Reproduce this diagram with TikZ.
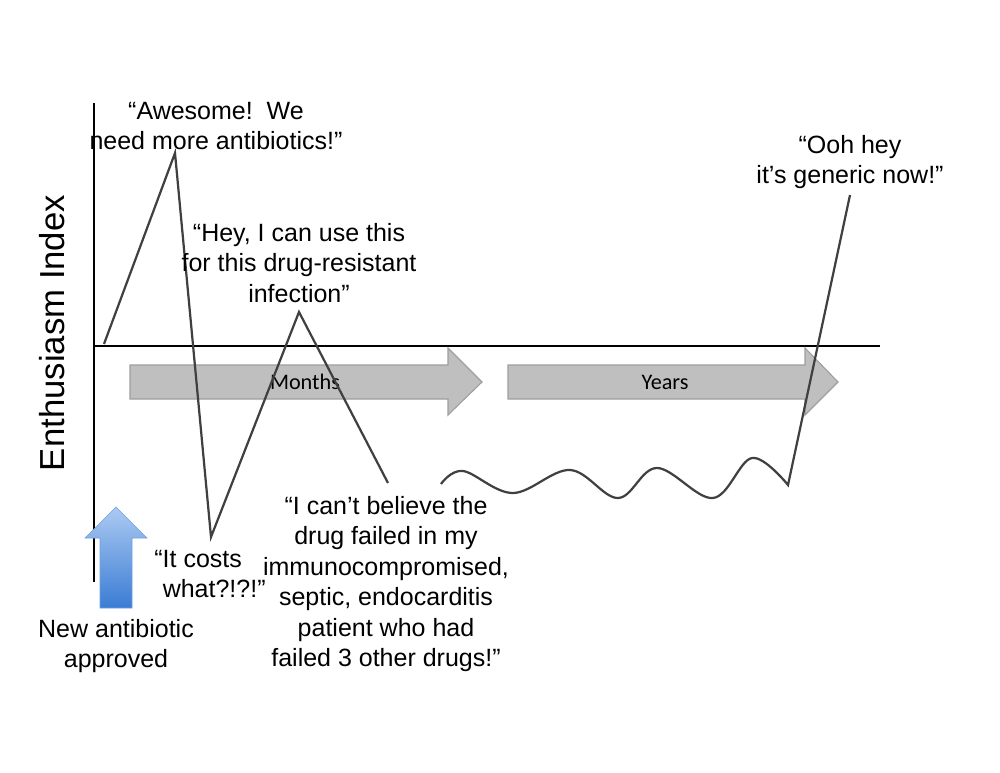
\documentclass[tikz,border=0pt]{standalone}
\usepackage{fontspec}
\setmainfont{Liberation Sans}
\newfontfamily\calibrifont{Carlito}
\definecolor{approvetop}{RGB}{172,202,242}
\definecolor{approvebottom}{RGB}{58,124,212}
\definecolor{approveedge}{RGB}{110,160,225}
\begin{document}
\begin{tikzpicture}[
  x=0.72pt, y=-0.72pt,
  quote/.style={align=center, inner sep=0pt, font=\fontsize{18}{22}\selectfont},
  axisline/.style={line width=1.5pt, black},
  trace/.style={line width=1.6pt, black!75, line join=miter},
  timearrow/.style={fill=black!25, draw=black!38, line width=0.8pt},
  timelabel/.style={inner sep=0pt, font=\calibrifont\fontsize{16}{19}\selectfont}
]
\useasboundingbox (0,0) rectangle (1000,773);

% axes
\draw[axisline] (94,103) -- (94,582);
\draw[axisline] (94,346) -- (880,346);
\node[rotate=90, inner sep=0pt, font=\fontsize{25}{30}\selectfont] (index) at (52,333) {Enthusiasm Index};

% time arrows
\draw[timearrow] (130,365) -- (448,365) -- (448,348) -- (482,382) -- (448,415) -- (448,399) -- (130,399) -- cycle;
\draw[timearrow] (508,365) -- (805,365) -- (805,348) -- (838,382) -- (805,415) -- (805,399) -- (508,399) -- cycle;
\node[timelabel] (months) at (305,382) {Months};
\node[timelabel] (years) at (665,382) {Years};

% approval arrow
\shade[top color=approvetop, bottom color=approvebottom, draw=approveedge, line width=0.4pt]
  (100,608) -- (100,538) -- (85,538) -- (116,507) -- (147,538) -- (132,538) -- (132,608) -- cycle;

% enthusiasm trace
\draw[trace] (104,344) -- (175,153) -- (211,537) -- (299,312) -- (388,483);
\draw[trace] plot[smooth, tension=0.6] coordinates {(441,484) (463,471) (513,493) (570,470) (618,498) (657,468) (713,498) (752,458) (788,485)}
  -- (850,195);

% quotes
\node[quote] (awesome) at (216,126) {“Awesome!\ \ We\\need more antibiotics!”};
\node[quote] (useful) at (299,263) {“Hey, I can use this\\for this drug-resistant\\infection”};
\node[quote] (generic) at (850,162) {“Ooh hey\\it’s generic now!”};
\node[quote, align=left] (costs) at (210,574) {“It costs\\\hspace*{6pt}what?!?!”};
\node[quote] (approved) at (116,646) {New antibiotic\\approved};
\node[quote] (failed) at (386,584) {“I can’t believe the\\drug failed in my\\immunocompromised,\\septic, endocarditis\\patient who had\\failed 3 other drugs!”};
\end{tikzpicture}
\end{document}
